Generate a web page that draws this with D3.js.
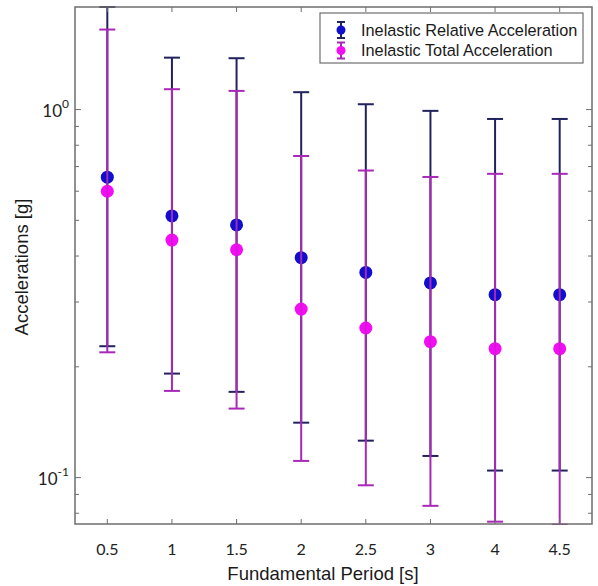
<!DOCTYPE html>
<html>
<head>
<meta charset="utf-8">
<script src="https://cdn.jsdelivr.net/npm/d3@7"></script>
<style>
  html, body { margin: 0; padding: 0; background: #fff; }
  svg { display: block; }
</style>
</head>
<body>
<svg id="chart" width="598" height="586"></svg>
<script>
// Fundamental periods (s), drawn as equally spaced categories
const periods = ["0.5", "1", "1.5", "2", "2.5", "3", "4", "4.5"];

// Inelastic relative acceleration (g): mean with lower / upper bounds
const relMean  = [0.655, 0.514, 0.486, 0.396, 0.361, 0.338, 0.314, 0.314];
const relLow   = [0.2275, 0.1917, 0.171, 0.141, 0.126, 0.1145, 0.1045, 0.1045];
const relHigh  = [1.90, 1.384, 1.379, 1.115, 1.034, 0.992, 0.943, 0.943];

// Inelastic total acceleration (g): mean with lower / upper bounds
const totMean  = [0.600, 0.442, 0.416, 0.287, 0.255, 0.234, 0.224, 0.224];
const totLow   = [0.219, 0.172, 0.154, 0.111, 0.0953, 0.0838, 0.0759, 0.0745];
const totHigh  = [1.650, 1.136, 1.124, 0.748, 0.683, 0.656, 0.669, 0.669];

const seriesNames = ["Inelastic Relative Acceleration", "Inelastic Total Acceleration"];
const yMajorTicks = [0.1, 1];
const yMinorTicks = [0.08, 0.09, 0.2, 0.3, 0.4, 0.5, 0.6, 0.7, 0.8, 0.9];

const svg = d3.select("#chart");
const m = { left: 75, top: 7, right: 592, bottom: 524 };

const x = d3.scalePoint().domain(periods).range([m.left, m.right]).padding(0.5);
const y = d3.scaleLog().domain([0.0748, 1.90]).range([m.bottom, m.top]);

const axisColor = "#6e6e6e";
const series = [
  { name: seriesNames[0], mean: relMean, low: relLow, high: relHigh, bar: "#22225e", dot: "#0f0fcc" },
  { name: seriesNames[1], mean: totMean, low: totLow, high: totHigh, bar: "#a829b8", dot: "#f20df2" }
];

// clip marks to the axes box
svg.append("defs").append("clipPath").attr("id", "plotClip")
  .append("rect").attr("x", m.left).attr("y", m.top - 1)
  .attr("width", m.right - m.left).attr("height", m.bottom - m.top + 2);

const plot = svg.append("g").attr("clip-path", "url(#plotClip)");
const capHalf = 8;

series.forEach(s => {
  const g = plot.append("g");
  periods.forEach((p, i) => {
    const cx = x(p);
    g.append("line").attr("x1", cx).attr("x2", cx)
      .attr("y1", y(s.low[i])).attr("y2", y(s.high[i]))
      .attr("stroke", s.bar).attr("stroke-width", 2);
    [s.low[i], s.high[i]].forEach(v => {
      g.append("line").attr("x1", cx - capHalf).attr("x2", cx + capHalf)
        .attr("y1", y(v)).attr("y2", y(v))
        .attr("stroke", s.bar).attr("stroke-width", 2);
    });
  });
  g.selectAll("circle.dot").data(s.mean).join("circle")
    .attr("class", "dot")
    .attr("cx", (d, i) => x(periods[i]))
    .attr("cy", d => y(d))
    .attr("r", 6.5)
    .attr("fill", s.dot);
  // stem shows through the marker centre
  periods.forEach((p, i) => {
    g.append("line").attr("x1", x(p)).attr("x2", x(p))
      .attr("y1", y(s.mean[i]) - 6).attr("y2", y(s.mean[i]) + 6)
      .attr("stroke", s.bar).attr("stroke-width", 1.2).attr("opacity", 0.55);
  });
});

// axes box
const axes = svg.append("g");
axes.append("rect")
  .attr("x", m.left).attr("y", m.top)
  .attr("width", m.right - m.left).attr("height", m.bottom - m.top)
  .attr("fill", "none").attr("stroke", axisColor).attr("stroke-width", 1.5);

// x ticks (bottom and top, pointing inward)
periods.forEach(p => {
  axes.append("line").attr("x1", x(p)).attr("x2", x(p))
    .attr("y1", m.bottom).attr("y2", m.bottom - 5).attr("stroke", axisColor);
  axes.append("line").attr("x1", x(p)).attr("x2", x(p))
    .attr("y1", m.top).attr("y2", m.top + 5).attr("stroke", axisColor);
});

// y ticks (left and right, inward)
yMajorTicks.concat(yMinorTicks).forEach(v => {
  const len = yMajorTicks.includes(v) ? 6 : 4;
  axes.append("line").attr("x1", m.left).attr("x2", m.left + len)
    .attr("y1", y(v)).attr("y2", y(v)).attr("stroke", axisColor);
  axes.append("line").attr("x1", m.right).attr("x2", m.right - len)
    .attr("y1", y(v)).attr("y2", y(v)).attr("stroke", axisColor);
});

const tickFont = "Lato, 'Open Sans', sans-serif";
const titleFont = "'Liberation Sans', Arial, sans-serif";

// x tick labels
svg.append("g").selectAll("text").data(periods).join("text")
  .attr("x", d => x(d)).attr("y", 555)
  .attr("text-anchor", "middle")
  .attr("font-family", tickFont).attr("font-size", 16)
  .attr("fill", "#222")
  .text(d => d);

// y tick labels as powers of ten
yMajorTicks.forEach(v => {
  const exp = Math.round(Math.log10(v));
  const t = svg.append("text")
    .attr("x", m.left - 6).attr("y", y(v) + 7)
    .attr("text-anchor", "end")
    .attr("font-family", tickFont).attr("font-size", 17).attr("fill", "#222");
  t.append("tspan").text("10");
  t.append("tspan").attr("dy", -9).attr("font-size", 12).text(String(exp));
});

// axis titles
svg.append("text")
  .attr("x", 323).attr("y", 580)
  .attr("text-anchor", "middle")
  .attr("font-family", titleFont).attr("font-size", 18.5).attr("fill", "#1a1a1a")
  .text("Fundamental Period [s]");

svg.append("text")
  .attr("transform", "translate(28,267) rotate(-90)")
  .attr("text-anchor", "middle")
  .attr("font-family", titleFont).attr("font-size", 18.5).attr("fill", "#1a1a1a")
  .text("Accelerations [g]");

// legend
const lg = svg.append("g");
lg.append("rect").attr("x", 320).attr("y", 13).attr("width", 263).attr("height", 50)
  .attr("fill", "#fff").attr("stroke", axisColor).attr("stroke-width", 1.2);
series.forEach((s, i) => {
  const cy = 30 + i * 20.5;
  const cx = 341;
  lg.append("line").attr("x1", cx).attr("x2", cx).attr("y1", cy - 8).attr("y2", cy + 8)
    .attr("stroke", s.bar).attr("stroke-width", 2);
  [cy - 8, cy + 8].forEach(yy => lg.append("line")
    .attr("x1", cx - 4).attr("x2", cx + 4).attr("y1", yy).attr("y2", yy)
    .attr("stroke", s.bar).attr("stroke-width", 2));
  lg.append("circle").attr("cx", cx).attr("cy", cy).attr("r", 4.5).attr("fill", s.dot);
  lg.append("text").attr("x", 361).attr("y", cy + 5.5)
    .attr("font-family", titleFont).attr("font-size", 16.3).attr("fill", "#1a1a1a")
    .text(s.name);
});
</script>
</body>
</html>
